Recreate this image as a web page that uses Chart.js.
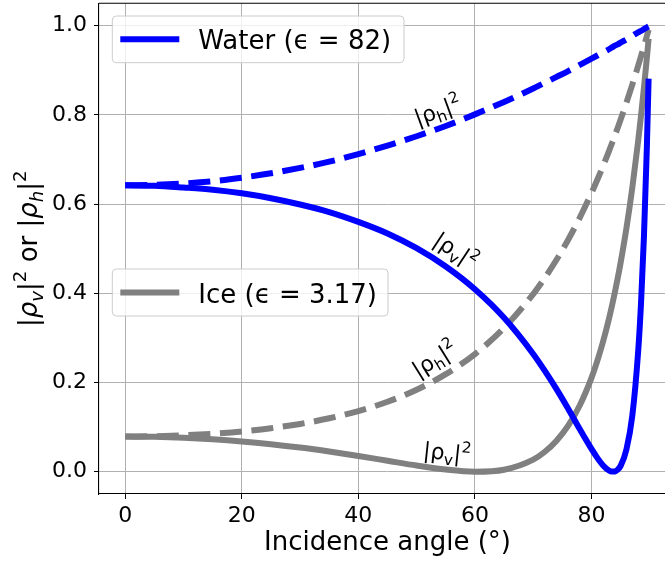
<!DOCTYPE html>
<html>
<head>
<meta charset="utf-8">
<script src="https://cdn.jsdelivr.net/npm/chart.js@4.4.0/dist/chart.umd.min.js"></script>
<style>
  html, body { margin: 0; padding: 0; overflow: hidden; background: #fff; }
  #chart { position: absolute; left: 0; top: 0; }
</style>
</head>
<body>
<canvas id="chart" width="700" height="565"></canvas>
<script>
// incidence angles (deg)
const angles = [0, 5, 10, 15, 20, 25, 30, 35, 40, 45, 50, 55, 60, 65, 70, 72, 74, 76, 78, 80,
  81, 82, 83, 83.5, 84, 84.5, 85, 86, 87, 88, 88.5, 89, 89.5, 89.8];

// water, eps = 82
const waterRh = [0.642, 0.643, 0.646, 0.651, 0.659, 0.669, 0.681, 0.695, 0.712, 0.731, 0.752, 0.775, 0.801, 0.829, 0.859, 0.872, 0.885, 0.898, 0.912, 0.926,
  0.933, 0.940, 0.947, 0.951, 0.955, 0.958, 0.962, 0.969, 0.977, 0.985, 0.988, 0.992, 0.996, 0.998];
const waterRv = [0.642, 0.641, 0.637, 0.632, 0.624, 0.613, 0.599, 0.582, 0.560, 0.534, 0.501, 0.460, 0.409, 0.345, 0.264, 0.226, 0.185, 0.141, 0.095, 0.051,
  0.031, 0.014, 0.0027, 0.0002, 0.0006, 0.0046, 0.013, 0.050, 0.125, 0.268, 0.378, 0.527, 0.727, 0.881];

// ice, eps = 3.17
const iceRh = [0.0788, 0.0795, 0.0815, 0.0851, 0.0903, 0.0976, 0.1071, 0.1197, 0.1359, 0.1568, 0.1837, 0.2186, 0.2637, 0.3223, 0.3983, 0.4347, 0.4751, 0.5200, 0.5697, 0.6247,
  0.6544, 0.6857, 0.7185, 0.7356, 0.7531, 0.7710, 0.7894, 0.8275, 0.8676, 0.9096, 0.9314, 0.9537, 0.9766, 0.9906];
const iceRv = [0.0788, 0.0781, 0.0761, 0.0727, 0.0679, 0.0617, 0.0542, 0.0453, 0.0353, 0.0246, 0.0139, 0.0049, 0.0001, 0.0045, 0.0272, 0.0447, 0.0694, 0.1032, 0.1490, 0.2104,
  0.2484, 0.2923, 0.3429, 0.3711, 0.4013, 0.4338, 0.4687, 0.5464, 0.6363, 0.7402, 0.7981, 0.8605, 0.9276, 0.9704];

const xTicks = [0, 20, 40, 60, 80];
const yTicks = [0, 0.2, 0.4, 0.6, 0.8, 1.0];

// curve labels, anchored in data units
const curveLabels = [
  { sub: 'h', x: 53.7, y: 0.807, rot: -20 },
  { sub: 'v', x: 56.6, y: 0.493, rot: 33 },
  { sub: 'h', x: 53.2, y: 0.250, rot: -32 },
  { sub: 'v', x: 55.2, y: 0.040, rot: 6 }
];

const FONT = "'DejaVu Sans', sans-serif";
const BLUE = '#0000ff';
const GRAY = '#808080';
const DASH = [22, 9.6];

function pts(ys) {
  return angles.map((a, i) => ({ x: a, y: ys[i] }));
}

// |rho_sub|^2 as pieces of text
function rhoParts(sub, size, italic) {
  const it = italic ? 'italic ' : '';
  const small = size * 0.7;
  return [
    { t: '|', font: size + 'px ' + FONT, dy: 0 },
    { t: 'ρ', font: it + size + 'px ' + FONT, dy: 0 },
    { t: sub, font: it + small + 'px ' + FONT, dy: size * 0.22 },
    { t: '|', font: size + 'px ' + FONT, dy: 0 },
    { t: '2', font: small + 'px ' + FONT, dy: -size * 0.42 }
  ];
}

function partsWidth(ctx, parts) {
  let w = 0;
  parts.forEach(p => { ctx.font = p.font; w += ctx.measureText(p.t).width; });
  return w;
}

// draw centred on (cx, cy), rotated by deg
function drawParts(ctx, parts, cx, cy, deg, size) {
  ctx.save();
  ctx.translate(cx, cy);
  ctx.rotate(deg * Math.PI / 180);
  ctx.fillStyle = '#000';
  ctx.textBaseline = 'alphabetic';
  ctx.textAlign = 'left';
  let x = -partsWidth(ctx, parts) / 2;
  const base = size * 0.28;
  parts.forEach(p => {
    ctx.font = p.font;
    ctx.fillText(p.t, x, base + p.dy);
    x += ctx.measureText(p.t).width;
  });
  ctx.restore();
}

function legendBox(ctx, x, y, w, h, color, text) {
  ctx.save();
  ctx.setLineDash([]);
  ctx.beginPath();
  ctx.roundRect(x, y, w, h, 4);
  ctx.fillStyle = 'rgba(255,255,255,0.8)';
  ctx.fill();
  ctx.strokeStyle = '#cccccc';
  ctx.lineWidth = 1;
  ctx.stroke();
  const ly = y + h / 2;
  ctx.beginPath();
  ctx.moveTo(x + 8, ly);
  ctx.lineTo(x + 67, ly);
  ctx.strokeStyle = color;
  ctx.lineWidth = 6;
  ctx.lineCap = 'butt';
  ctx.stroke();
  ctx.fillStyle = '#000';
  ctx.font = '26px ' + FONT;
  ctx.textBaseline = 'alphabetic';
  ctx.textAlign = 'left';
  ctx.fillText(text, x + 86, ly + 10);
  ctx.restore();
}

const decor = {
  id: 'decor',
  afterDatasetsDraw(chart) {
    const { ctx, chartArea: a, scales: { x, y } } = chart;
    // top and right spines (right one falls outside the window, as in the original)
    ctx.save();
    ctx.setLineDash([]);
    ctx.strokeStyle = '#000';
    ctx.lineWidth = 1.1;
    ctx.beginPath();
    ctx.moveTo(a.left, a.top);
    ctx.lineTo(a.right, a.top);
    ctx.lineTo(a.right, a.bottom);
    ctx.stroke();
    ctx.restore();

    curveLabels.forEach(l => {
      drawParts(ctx, rhoParts(l.sub, 22, false), x.getPixelForValue(l.x), y.getPixelForValue(l.y), l.rot, 22);
    });

    legendBox(ctx, a.left + 13.3, a.top + 12.7, 291.7, 46.7, BLUE, 'Water (ϵ = 82)');
    legendBox(ctx, a.left + 13.3, a.top + 265.7, 275.7, 47, GRAY, 'Ice (ϵ = 3.17)');
  },
  afterDraw(chart) {
    const { ctx, chartArea: a } = chart;
    const parts = rhoParts('v', 26, true)
      .concat([{ t: ' or ', font: '26px ' + FONT, dy: 0 }])
      .concat(rhoParts('h', 26, true));
    drawParts(ctx, parts, 30, (a.top + a.bottom) / 2, -90, 26);
  }
};

new Chart(document.getElementById('chart'), {
  type: 'line',
  data: {
    datasets: [
      { label: 'Water (ϵ = 82)', data: pts(waterRv), borderColor: BLUE, order: 0 },
      { label: 'water h', data: pts(waterRh), borderColor: BLUE, borderDash: DASH, order: 0 },
      { label: 'Ice (ϵ = 3.17)', data: pts(iceRv), borderColor: GRAY, order: 1 },
      { label: 'ice h', data: pts(iceRh), borderColor: GRAY, borderDash: DASH, order: 1 }
    ]
  },
  options: {
    responsive: false,
    animation: false,
    layout: { padding: { left: 0, right: 24, top: 3.3, bottom: 6.4 } },
    elements: {
      point: { radius: 0 },
      line: { borderWidth: 6, fill: false, cubicInterpolationMode: 'monotone', borderCapStyle: 'butt', borderJoinStyle: 'round' }
    },
    plugins: { legend: { display: false }, tooltip: { enabled: false } },
    scales: {
      x: {
        type: 'linear',
        min: -4.5,
        max: 94.5,
        afterBuildTicks: s => { s.ticks = xTicks.map(v => ({ value: v })); },
        afterFit: s => { s.height = 64.6; s.paddingLeft = 0; s.paddingRight = 0; },
        ticks: {
          autoSkip: false, maxRotation: 0, padding: 4, color: '#000',
          font: { family: FONT, size: 22 },
          callback: v => String(v)
        },
        grid: { color: '#b0b0b0', lineWidth: 1, tickColor: '#000', tickLength: 5, tickWidth: 1 },
        border: { display: true, color: '#000', width: 1.1 },
        title: { display: true, text: 'Incidence angle (°)', color: '#000', padding: 0, font: { family: FONT, size: 26 } }
      },
      y: {
        min: -0.05,
        max: 1.05,
        afterBuildTicks: s => { s.ticks = yTicks.map(v => ({ value: v })); },
        afterFit: s => { s.width = 99; s.paddingTop = 0; s.paddingBottom = 0; },
        ticks: {
          autoSkip: false, padding: 7, color: '#000',
          font: { family: FONT, size: 22 },
          callback: v => v.toFixed(1)
        },
        grid: { color: '#b0b0b0', lineWidth: 1, tickColor: '#000', tickLength: 5, tickWidth: 1 },
        border: { display: true, color: '#000', width: 1.1 }
      }
    }
  },
  plugins: [decor]
});
</script>
</body>
</html>
